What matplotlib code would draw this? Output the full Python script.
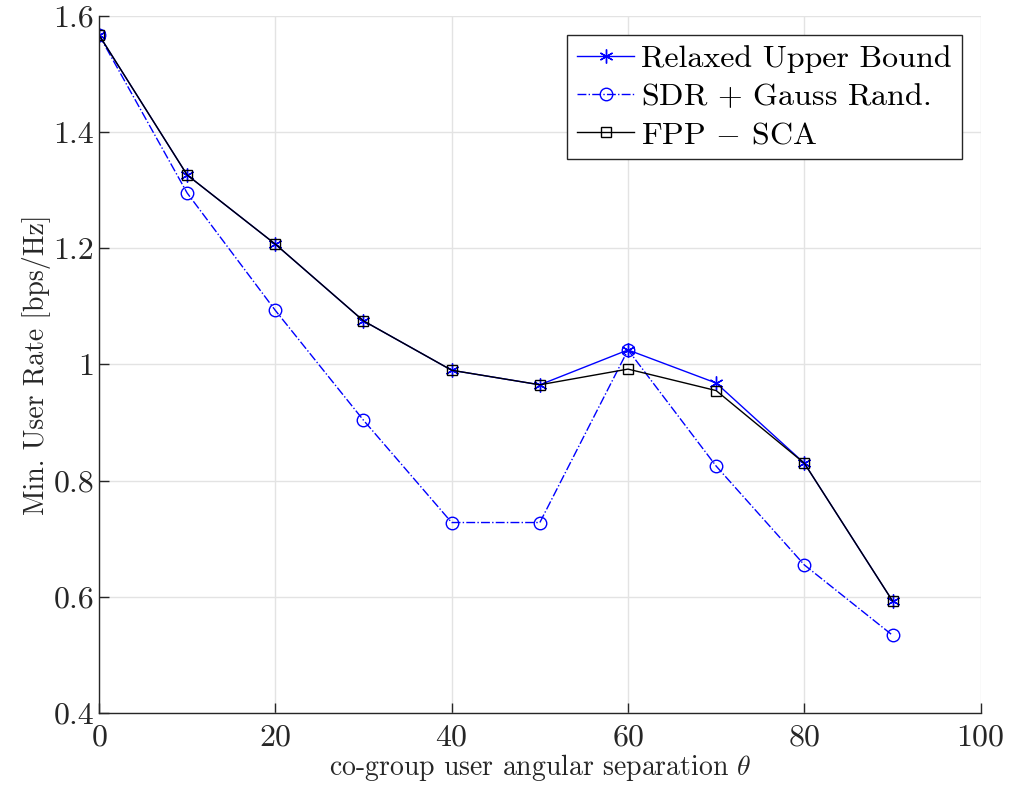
import numpy as np
import matplotlib
matplotlib.use('Agg')
import matplotlib.pyplot as plt

plt.rcParams['font.family'] = 'cmr10'
plt.rcParams['mathtext.fontset'] = 'cm'
plt.rcParams['axes.unicode_minus'] = False
plt.rcParams['axes.formatter.use_mathtext'] = True

# ================== Data ==================
theta = [0, 10, 20, 30, 40, 50, 60, 70, 80, 90]
upper_bound = [1.567, 1.326, 1.207, 1.075, 0.990, 0.965, 1.025, 0.968, 0.830, 0.593]
sdr_gauss = [1.567, 1.295, 1.093, 0.904, 0.728, 0.728, 1.025, 0.825, 0.655, 0.534]
fpp_sca = [1.567, 1.326, 1.207, 1.075, 0.990, 0.965, 0.992, 0.955, 0.830, 0.593]

XTICKS = [0, 20, 40, 60, 80, 100]
YTICKS = [0.4, 0.6, 0.8, 1.0, 1.2, 1.4, 1.6]
YTICKLABELS = ['0.4', '0.6', '0.8', '1', '1.2', '1.4', '1.6']

AXCOLOR = '#262626'
ASTERISK = (6, 2, 0)  # matlab-like '*'

# ================== Plot ==================
fig = plt.figure(figsize=(10.1, 7.88), dpi=100)
ax = fig.add_axes([0.098, 0.095, 0.873, 0.885])

ax.plot(theta, upper_bound, color='blue', linestyle='-', linewidth=1.0,
        marker=ASTERISK, markersize=10, markeredgewidth=1.0, label='Relaxed Upper Bound')
ax.plot(theta, sdr_gauss, color='blue', linestyle='-.', linewidth=1.0,
        marker='o', markersize=9, markerfacecolor='none', label=r'SDR $+$ Gauss Rand.')
ax.plot(theta, fpp_sca, color='black', linestyle='-', linewidth=1.0,
        marker='s', markersize=7.5, markerfacecolor='none', label=r'FPP $-$ SCA')

ax.set_xlim(0, 100)
ax.set_ylim(0.4, 1.6)
ax.set_xticks(XTICKS)
ax.set_yticks(YTICKS)
ax.set_yticklabels(YTICKLABELS)
ax.tick_params(direction='in', length=7, width=1.0, colors=AXCOLOR, labelsize=23,
               top=False, right=False)
ax.tick_params(axis='x', pad=8)

for side in ['top', 'right']:
  ax.spines[side].set_visible(False)
for side in ['left', 'bottom']:
  ax.spines[side].set_color(AXCOLOR)
  ax.spines[side].set_linewidth(1.0)

ax.grid(True, color='#e3e3e3', linewidth=1.0)
ax.set_axisbelow(True)

ax.set_xlabel(r'co-group user angular separation $\theta$', fontsize=20, color=AXCOLOR, labelpad=0)
ax.set_ylabel('Min. User Rate [bps/Hz]', fontsize=20, color=AXCOLOR, labelpad=2)

leg = ax.legend(loc='upper right', fontsize=23, fancybox=False, framealpha=1,
                edgecolor=AXCOLOR, handlelength=1.8, handletextpad=0.22,
                borderpad=0.3, labelspacing=0.3, borderaxespad=0.6)
leg.get_frame().set_linewidth(1.0)

plt.savefig('out.png', dpi=100)
